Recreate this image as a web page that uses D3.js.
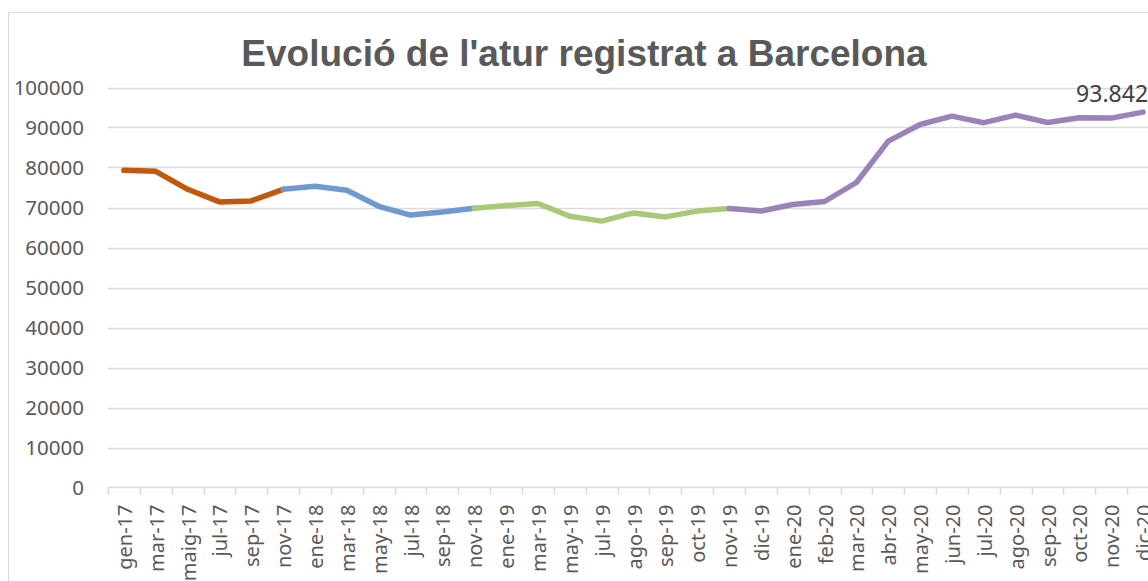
<!DOCTYPE html>
<html>
<head>
<meta charset="utf-8">
<script src="https://cdn.jsdelivr.net/npm/d3@7"></script>
<style>
    body { margin: 0; background: #fff; overflow: hidden; }
    svg { display: block; }
</style>
</head>
<body>
<svg id="chart"></svg>
<script>

// months shown on the x axis
var months = ["gen-17", "mar-17", "maig-17", "jul-17", "sep-17", "nov-17", "ene-18", "mar-18",
    "may-18", "jul-18", "sep-18", "nov-18", "ene-19", "mar-19", "may-19", "jul-19", "ago-19",
    "sep-19", "oct-19", "nov-19", "dic-19", "ene-20", "feb-20", "mar-20", "abr-20", "may-20",
    "jun-20", "jul-20", "ago-20", "sep-20", "oct-20", "nov-20", "dic-20"];

// registered unemployment
var atur = [79300, 79050, 74550, 71400, 71650, 74550, 75300, 74300,
    70300, 68100, 68900, 69800, 70500, 71000, 67800, 66600, 68650,
    67650, 69100, 69750, 69100, 70750, 71500, 76250, 86600, 90750,
    92850, 91200, 93100, 91250, 92450, 92350, 93842];

// each coloured stretch goes from one index to the next one
var segmentBreaks = [0, 5, 11, 19, 32];
var segmentColors = ["#c0580f", "#6f9ad0", "#a8c977", "#9b83b9"];

var yTicks = [0, 10000, 20000, 30000, 40000, 50000, 60000, 70000, 80000, 90000, 100000];

var width = 1148, height = 581;
var margin = {top: 87, left: 108, bottom: 93};

var svg = d3.select("#chart")
    .attr("width", width)
    .attr("height", height);

// outer chart frame (runs off the right and bottom edge)
svg.append("rect")
    .attr("x", 8.5)
    .attr("y", 12.5)
    .attr("width", 1300)
    .attr("height", 700)
    .style("fill", "none")
    .style("stroke", "#d9d9d9");

svg.append("text")
    .attr("x", 584)
    .attr("y", 66)
    .attr("text-anchor", "middle")
    .style("font-family", "Liberation Sans, Arial, sans-serif")
    .style("font-weight", "bold")
    .style("font-size", "37px")
    .style("fill", "#595959")
    .text("Evolució de l'atur registrat a Barcelona");

let xScale = d3.scaleBand()
    .domain(months)
    .range([margin.left, 1159]);

let yScale = d3.scaleLinear()
    .domain([0, 100000])
    .range([height - margin.bottom - 0.5, margin.top + 0.5]);

// gridlines
svg.append("g")
    .selectAll("line")
    .data(yTicks.slice(1))
    .enter().append("line")
    .attr("x1", margin.left)
    .attr("x2", 1300)
    .attr("y1", d => Math.round(yScale(d)) + 0.5)
    .attr("y2", d => Math.round(yScale(d)) + 0.5)
    .style("stroke", "#d9d9d9")
    .style("stroke-width", 1.5);

// y axis labels
let yAxis = d3.axisLeft(yScale)
    .tickValues(yTicks)
    .tickSize(0)
    .tickPadding(24)
    .tickFormat(d3.format("d"));

let yAxisG = svg.append("g")
    .attr("transform", "translate(" + margin.left + ",0)")
    .call(yAxis);
yAxisG.select(".domain").remove();
yAxisG.selectAll("text")
    .style("font-family", "Noto Sans, sans-serif")
    .style("font-size", "20.5px")
    .style("fill", "#595959");

// x axis: baseline plus ticks at band edges
let xAxisG = svg.append("g")
    .attr("transform", "translate(0," + yScale(0) + ")");

xAxisG.append("line")
    .attr("x1", margin.left)
    .attr("x2", 1300)
    .style("stroke", "#d9d9d9")
    .style("stroke-width", 1.5);

xAxisG.selectAll(".tick")
    .data(months.concat(["end"]))
    .enter().append("line")
    .attr("class", "tick")
    .attr("x1", (d, i) => Math.round(margin.left + i * xScale.step()) + 0.5)
    .attr("x2", (d, i) => Math.round(margin.left + i * xScale.step()) + 0.5)
    .attr("y1", 0)
    .attr("y2", 7)
    .style("stroke", "#d9d9d9")
    .style("stroke-width", 1.5);

xAxisG.selectAll(".lbl")
    .data(months)
    .enter().append("text")
    .attr("class", "lbl")
    .attr("transform", d => "translate(" + (xScale(d) + xScale.bandwidth() / 2 + 1) + ",17) rotate(-90)")
    .attr("dy", "0.35em")
    .attr("text-anchor", "end")
    .style("font-family", "Noto Sans, sans-serif")
    .style("font-size", "20px")
    .style("fill", "#595959")
    .text(d => d);

// coloured line segments
var line = d3.line()
    .x(i => xScale(months[i]) + xScale.bandwidth() / 2)
    .y(i => yScale(atur[i]));

for (let s = 0; s < segmentColors.length; s++) {
    let idx = d3.range(segmentBreaks[s], segmentBreaks[s + 1] + 1);
    svg.append("path")
        .datum(idx)
        .attr("d", line)
        .style("fill", "none")
        .style("stroke", segmentColors[s])
        .style("stroke-width", 5.5)
        .style("stroke-linejoin", "round")
        .style("stroke-linecap", "round");
}

// label on the last value
var last = atur.length - 1;
svg.append("text")
    .attr("x", xScale(months[last]) + xScale.bandwidth() / 2 - 31)
    .attr("y", yScale(atur[last]) - 10)
    .attr("text-anchor", "middle")
    .style("font-family", "Noto Sans, sans-serif")
    .style("font-size", "23px")
    .style("fill", "#404040")
    .text(d3.format(",")(atur[last]).replace(",", "."));

</script>
</body>
</html>
